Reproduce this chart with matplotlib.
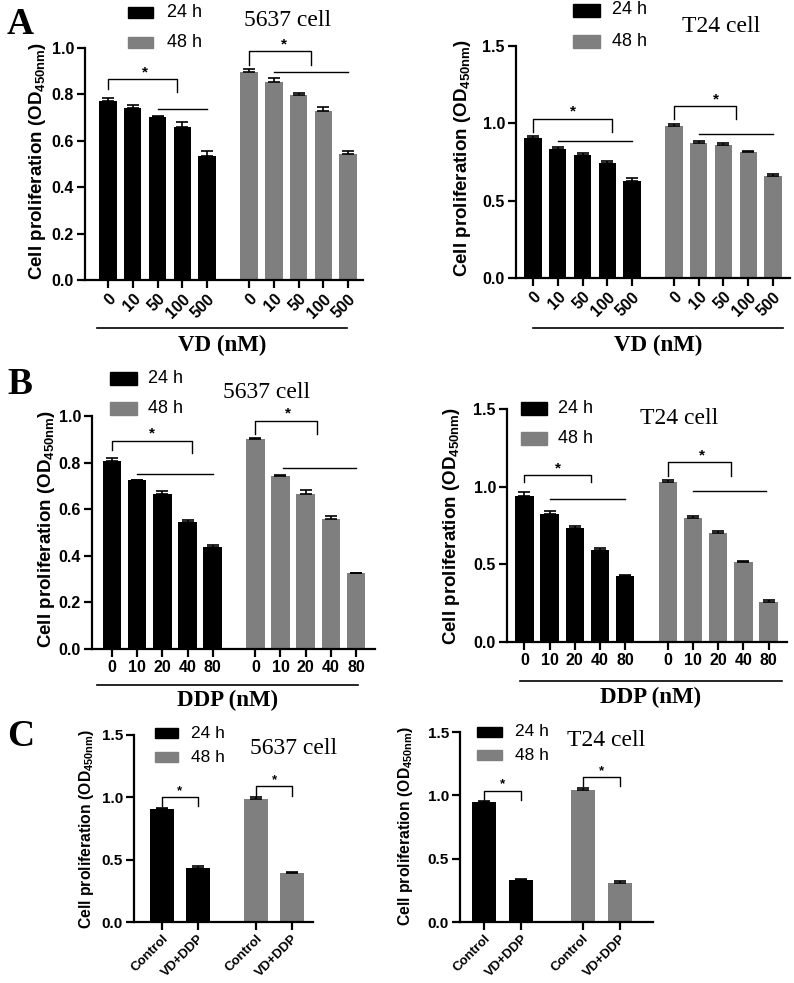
import numpy as np
import matplotlib
matplotlib.use('Agg')
import matplotlib.pyplot as plt
from matplotlib.patches import Rectangle

plt.rcParams['font.family'] = 'Liberation Sans'
plt.rcParams['font.weight'] = 'bold'
plt.rcParams['mathtext.fontset'] = 'custom'
plt.rcParams['mathtext.rm'] = 'Liberation Sans'
plt.rcParams['mathtext.bf'] = 'Liberation Sans:bold'

W, H = 794, 983
BLACK = '#000000'
GREY = '#7f7f7f'
SERIF = 'Liberation Serif'

# ---- data ----
vd_doses = ['0', '10', '50', '100', '500']
ddp_doses = ['0', '10', '20', '40', '80']
combo_groups = ['Control', 'VD+DDP']

# A: VD dose, 5637
a5637_24 = [0.770, 0.742, 0.703, 0.660, 0.535]
a5637_24_err = [0.015, 0.014, 0.003, 0.020, 0.020]
a5637_48 = [0.897, 0.852, 0.799, 0.727, 0.544]
a5637_48_err = [0.014, 0.020, 0.006, 0.018, 0.011]
# A: VD dose, T24
at24_24 = [0.907, 0.832, 0.793, 0.744, 0.625]
at24_24_err = [0.010, 0.015, 0.015, 0.012, 0.020]
at24_48 = [0.985, 0.875, 0.862, 0.815, 0.657]
at24_48_err = [0.008, 0.012, 0.012, 0.006, 0.018]
# B: DDP dose, 5637
b5637_24 = [0.806, 0.724, 0.667, 0.543, 0.439]
b5637_24_err = [0.012, 0.003, 0.013, 0.010, 0.008]
b5637_48 = [0.902, 0.741, 0.664, 0.556, 0.325]
b5637_48_err = [0.005, 0.004, 0.018, 0.015, 0.003]
# B: DDP dose, T24
bt24_24 = [0.943, 0.826, 0.734, 0.594, 0.422]
bt24_24_err = [0.020, 0.015, 0.015, 0.008, 0.010]
bt24_48 = [1.033, 0.796, 0.702, 0.516, 0.260]
bt24_48_err = [0.008, 0.018, 0.012, 0.004, 0.012]
# C: combination
c5637_24 = [0.903, 0.433]
c5637_24_err = [0.010, 0.020]
c5637_48 = [0.985, 0.390]
c5637_48_err = [0.015, 0.012]
ct24_24 = [0.945, 0.330]
ct24_24_err = [0.007, 0.010]
ct24_48 = [1.040, 0.306]
ct24_48_err = [0.015, 0.015]

YLABEL = r'Cell proliferation (OD$_{\mathbf{450nm}}$)'

fig = plt.figure(figsize=(W / 100, H / 100), dpi=100)


def fx(x):
    return x / W


def fy(y):
    return 1 - y / H


def make_ax(l, t, r, b, xlim, ylim, yticks, fs=11.5):
    ax = fig.add_axes([fx(l), fy(b), (r - l) / W, (b - t) / H])
    ax.set_xlim(*xlim)
    ax.set_ylim(*ylim)
    ax.set_yticks(yticks)
    ax.set_yticklabels(['%.1f' % v for v in yticks])
    for s in ['top', 'right']:
        ax.spines[s].set_visible(False)
    for s in ['left', 'bottom']:
        ax.spines[s].set_linewidth(1.6)
    ax.tick_params(width=1.6, length=5.5, labelsize=fs, pad=2.5)
    ax.box = (l, t, r, b)
    return ax


def bars(ax, pos, vals, errs, color, width):
    ax.bar(pos, vals, width, color=color, zorder=2)
    ax.errorbar(pos, vals, yerr=[np.zeros(len(vals)), errs], fmt='none',
                ecolor='black', elinewidth=1.2, capsize=4, capthick=1.2, zorder=3)


def bracket(ax, x0, x1, y, yl, yr, xs, fs=11):
    ax.plot([x0, x0, x1, x1], [yl, y, y, yr], color='black', lw=1.0, clip_on=False)
    ax.text(xs, y, '*', ha='center', va='bottom', fontsize=fs, fontweight='bold')


def hline(ax, x0, x1, y):
    ax.plot([x0, x1], [y, y], color='black', lw=1.0, clip_on=False)


def ylabel(ax, cx, cy, fs):
    l, t, r, b = ax.box
    ax.set_ylabel(YLABEL, fontsize=fs, fontweight='bold', va='center')
    ax.yaxis.set_label_coords((cx - l) / (r - l), (b - cy) / (b - t))


def legend_at(x, y1, y2, w, h, tx, fs):
    for yc, c, lab in [(y1, BLACK, '24 h'), (y2, GREY, '48 h')]:
        fig.add_artist(Rectangle((fx(x), fy(yc + h / 2)), w / W, h / H,
                                 transform=fig.transFigure, color=c))
        fig.text(fx(tx), fy(yc), lab, fontsize=fs, fontweight='normal',
                 ha='left', va='center')


def under_line(x0, x1, y, label, ty):
    fig.add_artist(plt.Line2D([fx(x0), fx(x1)], [fy(y), fy(y)],
                              transform=fig.transFigure, color='black', lw=1.2))
    fig.text(fx((x0 + x1) / 2), fy(ty), label, family=SERIF, fontsize=16.5,
             fontweight='bold', ha='center', va='center')


def title(x, y, s):
    fig.text(fx(x), fy(y), s, family=SERIF, fontsize=17, fontweight='normal',
             ha='center', va='center')


def letter(x, y, s):
    fig.text(fx(x), fy(y), s, family=SERIF, fontsize=27, fontweight='bold',
             ha='center', va='center')


g5 = np.arange(5)
g5b = g5 + 5.7
rot = dict(rotation=45, ha='right', rotation_mode='anchor')

# ---------- A left ----------
ax = make_ax(85, 48, 363, 280, (-0.93, 10.3), (0, 1.0), [0, 0.2, 0.4, 0.6, 0.8, 1.0])
bars(ax, g5, a5637_24, a5637_24_err, BLACK, 0.7)
bars(ax, g5b, a5637_48, a5637_48_err, GREY, 0.7)
ax.set_xticks(np.concatenate([g5, g5b]))
ax.set_xticklabels(vd_doses + vd_doses, fontsize=11.5, **rot)
bracket(ax, 0, 2.8, 0.865, 0.825, 0.81, 1.5)
hline(ax, 2.0, 4.0, 0.735)
bracket(ax, 5.7, 8.2, 0.987, 0.925, 0.925, 7.1)
hline(ax, 6.7, 9.7, 0.897)
ylabel(ax, 37.5, 161, 13.5)

# ---------- A right ----------
ax = make_ax(516, 46, 790, 278, (-0.69, 10.39), (0, 1.5), [0, 0.5, 1.0, 1.5])
bars(ax, g5, at24_24, at24_24_err, BLACK, 0.7)
bars(ax, g5b, at24_48, at24_48_err, GREY, 0.7)
ax.set_xticks(np.concatenate([g5, g5b]))
ax.set_xticklabels(vd_doses + vd_doses, fontsize=11.5, **rot)
bracket(ax, 0, 3.2, 1.03, 0.944, 0.944, 1.6)
hline(ax, 1.0, 4.0, 0.884)
bracket(ax, 5.7, 8.2, 1.11, 1.03, 1.03, 7.4)
hline(ax, 6.7, 9.7, 0.933)
ylabel(ax, 462.5, 158, 13.5)

# ---------- B left ----------
ax = make_ax(92, 416, 375, 649, (-0.8, 10.46), (0, 1.0), [0, 0.2, 0.4, 0.6, 0.8, 1.0])
bars(ax, g5, b5637_24, b5637_24_err, BLACK, 0.73)
bars(ax, g5b, b5637_48, b5637_48_err, GREY, 0.73)
ax.set_xticks(np.concatenate([g5, g5b]))
ax.set_xticklabels(ddp_doses + ddp_doses, fontsize=11.5)
bracket(ax, 0, 3.17, 0.893, 0.854, 0.84, 1.6)
hline(ax, 1.0, 4.0, 0.753)
bracket(ax, 5.7, 8.17, 0.98, 0.923, 0.923, 7.0)
hline(ax, 6.8, 9.7, 0.778)
ylabel(ax, 46.5, 529, 13.5)

# ---------- B right ----------
ax = make_ax(507, 409, 787, 642, (-0.69, 10.43), (0, 1.5), [0, 0.5, 1.0, 1.5])
bars(ax, g5, bt24_24, bt24_24_err, BLACK, 0.73)
bars(ax, g5b, bt24_48, bt24_48_err, GREY, 0.73)
ax.set_xticks(np.concatenate([g5, g5b]))
ax.set_xticklabels(ddp_doses + ddp_doses, fontsize=11.5)
bracket(ax, 0, 2.63, 1.072, 1.033, 1.033, 1.35)
hline(ax, 1.0, 4.0, 0.921)
bracket(ax, 5.7, 8.19, 1.156, 1.07, 1.07, 7.05)
hline(ax, 6.7, 9.6, 0.97)
ylabel(ax, 451, 526, 13.5)

# ---------- C left ----------
g2 = np.arange(2)
g2b = g2 + 2.65
ax = make_ax(134, 735, 313, 922, (-0.79, 4.24), (0, 1.5), [0, 0.5, 1.0, 1.5], fs=11)
bars(ax, g2, c5637_24, c5637_24_err, BLACK, 0.67)
bars(ax, g2b, c5637_48, c5637_48_err, GREY, 0.67)
ax.set_xticks(np.concatenate([g2, g2b]))
ax.set_xticklabels(combo_groups + combo_groups, fontsize=9.5, **rot)
ax.tick_params(axis='x', pad=2)
bracket(ax, 0, 1, 1.0, 0.93, 0.93, 0.5, fs=9.5)
bracket(ax, 2.65, 3.65, 1.09, 1.01, 1.01, 3.15, fs=9.5)
ylabel(ax, 86, 829, 11.3)

# ---------- C right ----------
ax = make_ax(460, 732, 653, 922, (-0.65, 4.54), (0, 1.5), [0, 0.5, 1.0, 1.5], fs=11)
bars(ax, g2, ct24_24, ct24_24_err, BLACK, 0.65)
bars(ax, g2b, ct24_48, ct24_48_err, GREY, 0.65)
ax.set_xticks(np.concatenate([g2, g2b]))
ax.set_xticklabels(combo_groups + combo_groups, fontsize=9.5, **rot)
ax.tick_params(axis='x', pad=2)
bracket(ax, 0, 1, 1.038, 0.96, 0.96, 0.5, fs=9.5)
bracket(ax, 2.65, 3.65, 1.143, 1.075, 1.075, 3.15, fs=9.5)
ylabel(ax, 405.5, 826, 11.3)

# ---------- legends, titles, group lines ----------
legend_at(128, 12.5, 42.5, 25, 11, 167, 13)
legend_at(573, 10, 41.5, 27, 13, 612, 13)
legend_at(110, 378.5, 408.5, 27, 13, 148, 13)
legend_at(521, 408.5, 438.5, 26, 13, 558, 13)
legend_at(155, 733, 757, 23, 10, 191, 12.5)
legend_at(477, 732, 755, 25, 10, 515, 12.5)

title(288, 21, '5637 cell')
title(721, 27, 'T24 cell')
title(267, 393, '5637 cell')
title(679, 419, 'T24 cell')
title(294, 749, '5637 cell')
title(606, 740, 'T24 cell')

under_line(97, 347, 328, 'VD (nM)', 345)
under_line(533, 783, 328, 'VD (nM)', 345)
under_line(97, 358, 685, 'DDP (nM)', 700)
under_line(520, 782, 681, 'DDP (nM)', 697)

letter(20, 25, 'A')
letter(20, 385, 'B')
letter(21, 736, 'C')

fig.savefig('out.png', dpi=100)
